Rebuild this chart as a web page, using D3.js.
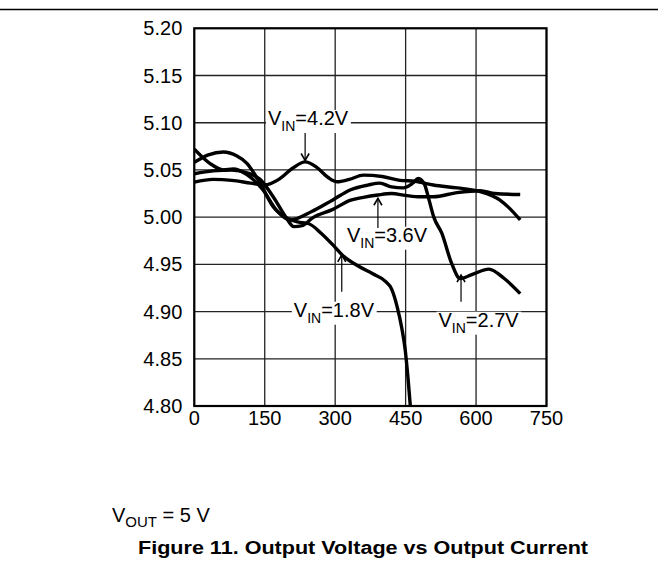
<!DOCTYPE html>
<html>
<head>
<meta charset="utf-8">
<script src="https://cdn.jsdelivr.net/npm/d3@7"></script>
<style>
  body { margin: 0; background: #fff; }
  svg { display: block; font-family: "Liberation Sans", Arial, Helvetica, sans-serif; }
</style>
</head>
<body>
<svg id="chart" width="658" height="566"></svg>
<script>
// Axis ticks
const currentTicks = [0, 150, 300, 450, 600, 750];
const voltageTicks = [4.80, 4.85, 4.90, 4.95, 5.00, 5.05, 5.10, 5.15, 5.20];

// Output current (mA) / output voltage (V)
const vin18Current = [0, 30, 62, 90, 112, 140, 168, 197, 220, 244, 270, 300, 315, 350, 380, 407, 420, 432, 442, 449, 455, 460];
const vin18Voltage = [5.058, 5.066, 5.069, 5.065, 5.057, 5.036, 5.011, 4.999, 4.995, 4.993, 4.983, 4.968, 4.960, 4.948, 4.940, 4.932, 4.924, 4.905, 4.882, 4.860, 4.830, 4.800];

const vin27Current = [0, 33, 62, 83, 112, 146, 174, 204, 250, 294, 333, 370, 395, 420, 445, 465, 477, 490, 500, 510, 527, 548, 566, 595, 627, 660, 694];
const vin27Voltage = [5.072, 5.057, 5.050, 5.051, 5.045, 5.029, 5.008, 4.997, 5.006, 5.018, 5.029, 5.034, 5.036, 5.032, 5.031, 5.036, 5.041, 5.035, 5.018, 5.000, 4.983, 4.951, 4.935, 4.940, 4.945, 4.935, 4.919];

const vin36Current = [0, 40, 80, 112, 140, 170, 195, 212, 230, 251, 294, 333, 360, 391, 420, 450, 481, 509, 560, 609, 640, 694];
const vin36Voltage = [5.046, 5.049, 5.050, 5.047, 5.040, 5.020, 5.000, 4.990, 4.991, 4.999, 5.008, 5.018, 5.021, 5.0235, 5.025, 5.023, 5.0216, 5.0216, 5.026, 5.028, 5.025, 5.024];

const vin42Current = [0, 40, 80, 120, 150, 180, 210, 236, 260, 285, 304, 330, 360, 400, 438, 470, 509, 560, 609, 651, 672, 694];
const vin42Voltage = [5.037, 5.040, 5.039, 5.036, 5.034, 5.040, 5.052, 5.0585, 5.053, 5.042, 5.0375, 5.040, 5.0445, 5.043, 5.039, 5.038, 5.034, 5.031, 5.027, 5.018, 5.009, 4.997];

const seriesNames = ['1.8V', '2.7V', '3.6V', '4.2V'];
const seriesCurrent = [vin18Current, vin27Current, vin36Current, vin42Current];
const seriesVoltage = [vin18Voltage, vin27Voltage, vin36Voltage, vin42Voltage];

// Annotation labels: text start (current, voltage) and arrow from -> tip (voltage) at arrow current
const labelNames = ['4.2V', '3.6V', '1.8V', '2.7V'];
const labelTextAt = [[157, 5.0976], [325, 4.974], [212, 4.8946], [520, 4.884]];
const labelArrow = [[236, 5.089, 5.060], [391, 4.9885, 5.020], [314, 4.921, 4.960], [568, 4.9105, 4.9387]];

/* ===== Config ===== */
const svg = d3.select('#chart');
const margin = { left: 194.3, top: 28.3 };
const plotW = 352.2, plotH = 377.7;

const xScale = d3.scaleLinear().domain([0, 750]).range([0, plotW]);
const yScale = d3.scaleLinear().domain([4.80, 5.20]).range([plotH, 0]);

// rule across the top of the page
svg.append('line')
    .attr('x1', 0).attr('x2', 658)
    .attr('y1', 9.5).attr('y2', 9.5)
    .attr('stroke', '#000').attr('stroke-width', 1.3);

const g = svg.append('g').attr('transform', `translate(${margin.left},${margin.top})`);

svg.append('defs').append('clipPath').attr('id', 'plotClip')
    .append('rect').attr('width', plotW).attr('height', plotH);

// grid
g.selectAll('.vgrid').data(currentTicks).enter().append('line')
    .attr('x1', d => xScale(d)).attr('x2', d => xScale(d))
    .attr('y1', 0).attr('y2', plotH)
    .attr('stroke', '#222').attr('stroke-width', 1.3);
g.selectAll('.hgrid').data(voltageTicks).enter().append('line')
    .attr('y1', d => yScale(d)).attr('y2', d => yScale(d))
    .attr('x1', 0).attr('x2', plotW)
    .attr('stroke', '#222').attr('stroke-width', 1.3);

// tick labels
g.selectAll('.ylab').data(voltageTicks).enter().append('text')
    .attr('x', -12).attr('y', d => yScale(d))
    .attr('dy', '0.35em')
    .attr('text-anchor', 'end')
    .attr('font-size', 20)
    .text(d => d.toFixed(2));
g.selectAll('.xlab').data(currentTicks).enter().append('text')
    .attr('x', d => xScale(d)).attr('y', plotH + 19)
    .attr('text-anchor', 'middle')
    .attr('font-size', 20)
    .text(d => d);

// annotation labels with white background
labelNames.forEach((name, i) => {
    const lg = g.append('g');
    const t = lg.append('text')
        .attr('x', xScale(labelTextAt[i][0]))
        .attr('y', yScale(labelTextAt[i][1]))
        .attr('font-size', 20);
    t.append('tspan').text('V');
    t.append('tspan').attr('font-size', 14).attr('dy', 6).text('IN');
    t.append('tspan').attr('dy', -6).text('=' + name);
    const bb = t.node().getBBox();
    lg.insert('rect', 'text')
        .attr('x', bb.x - 2).attr('y', bb.y + 3)
        .attr('width', bb.width + 4).attr('height', bb.height - 4)
        .attr('fill', '#fff');

    const ax = xScale(labelArrow[i][0]);
    const y0 = yScale(labelArrow[i][1]), y1 = yScale(labelArrow[i][2]);
    const dir = y1 > y0 ? -1 : 1;
    g.append('line')
        .attr('x1', ax).attr('x2', ax).attr('y1', y0).attr('y2', y1)
        .attr('stroke', '#000').attr('stroke-width', 1.2);
    g.append('path')
        .attr('d', `M${ax - 4},${y1 + dir * 7}L${ax},${y1}L${ax + 4},${y1 + dir * 7}`)
        .attr('fill', 'none').attr('stroke', '#000').attr('stroke-width', 1.6);
});

// curves
const line = d3.line()
    .x(d => xScale(d[0]))
    .y(d => yScale(d[1]))
    .curve(d3.curveMonotoneX);

g.append('g').attr('clip-path', 'url(#plotClip)')
    .selectAll('path')
    .data(seriesNames)
    .enter()
    .append('path')
    .attr('fill', 'none')
    .attr('stroke', '#000')
    .attr('stroke-width', 3.4)
    .attr('stroke-linejoin', 'round')
    .attr('d', (d, i) => line(seriesCurrent[i].map((c, j) => [c, seriesVoltage[i][j]])));

// frame
g.append('rect')
    .attr('width', plotW).attr('height', plotH)
    .attr('fill', 'none').attr('stroke', '#000').attr('stroke-width', 2.2);

// condition note and caption
const note = svg.append('text').attr('x', 112).attr('y', 522).attr('font-size', 20);
note.append('tspan').text('V');
note.append('tspan').attr('font-size', 15).attr('dy', 5).text('OUT');
note.append('tspan').attr('dy', -5).text(' = 5 V');

svg.append('text')
    .attr('x', 363).attr('y', 554)
    .attr('text-anchor', 'middle')
    .attr('font-size', 18)
    .attr('font-weight', 'bold')
    .attr('textLength', 450)
    .attr('lengthAdjust', 'spacingAndGlyphs')
    .text('Figure 11. Output Voltage vs Output Current');
</script>
</body>
</html>
